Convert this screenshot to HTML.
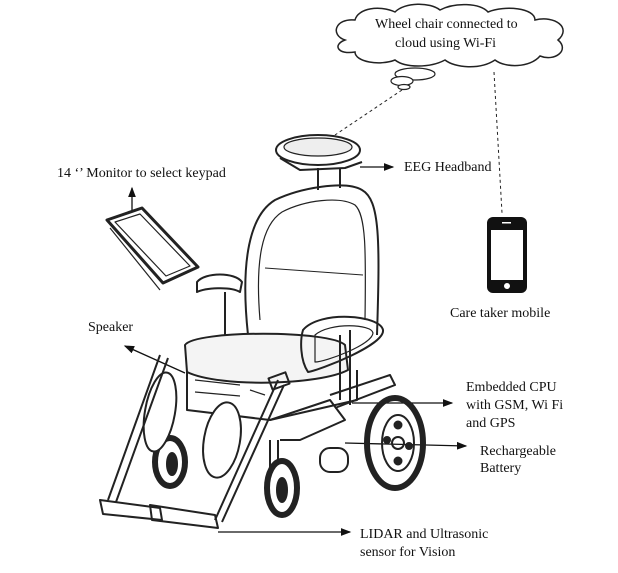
<!DOCTYPE html>
<html><head><style>
html,body{margin:0;padding:0;background:#fff;}
svg{display:block;}
text{font-family:"Liberation Serif",serif;font-size:14px;fill:#111;}
</style></head><body>
<svg width="618" height="573" viewBox="0 0 618 573" xmlns="http://www.w3.org/2000/svg">
<defs><marker id="a" markerWidth="8" markerHeight="8" refX="7" refY="4" orient="auto"><path d="M0,1 L8,4 L0,7 Z" fill="#111"/></marker></defs>
<!-- cloud -->
<path d="M345,40 C330,35 335,18 355,20 C358,8 380,5 395,12 C405,2 430,2 440,10 C455,2 480,3 488,12 C505,5 535,8 535,20 C555,15 572,28 558,40 C570,50 555,62 540,56 C530,68 505,68 495,60 C480,70 455,68 445,60 C430,68 405,68 395,60 C380,66 355,62 355,52 C338,55 332,45 345,40 Z" fill="#fff" stroke="#222" stroke-width="1.5"/>
<text x="375" y="28">Wheel chair connected to</text>
<text x="395" y="47">cloud using Wi-Fi</text>
<ellipse cx="415" cy="74" rx="20" ry="6" fill="#fff" stroke="#222" stroke-width="1.2"/>
<ellipse cx="402" cy="81" rx="11" ry="4.5" fill="#fff" stroke="#222" stroke-width="1.2"/>
<ellipse cx="404" cy="87" rx="6" ry="2.5" fill="#fff" stroke="#222" stroke-width="1.2"/>
<line x1="402" y1="90" x2="335" y2="135" stroke="#222" stroke-dasharray="3,3"/>
<line x1="494" y1="72" x2="502" y2="213" stroke="#222" stroke-dasharray="3,3"/>
<!-- phone -->
<rect x="487" y="217" width="40" height="76" rx="6" fill="#111"/>
<rect x="491" y="230" width="32" height="50" fill="#fff"/>
<circle cx="507" cy="286" r="3" fill="#fff"/>
<rect x="502" y="222" width="9" height="1.5" fill="#fff"/>
<text x="450" y="317">Care taker mobile</text>
<!-- labels -->
<text x="57" y="177">14 ‘’ Monitor to select keypad</text>
<text x="404" y="171">EEG Headband</text>
<text x="88" y="331">Speaker</text>
<text x="466" y="391">Embedded CPU</text>
<text x="466" y="409">with GSM, Wi Fi</text>
<text x="466" y="427">and GPS</text>
<text x="480" y="455">Rechargeable</text>
<text x="480" y="472">Battery</text>
<text x="360" y="538">LIDAR and Ultrasonic</text>
<text x="360" y="556">sensor for Vision</text>
<!-- arrows -->
<g stroke="#111" stroke-width="1.3" fill="none" marker-end="url(#a)">
<line x1="132" y1="212" x2="132" y2="188"/>
<line x1="360" y1="167" x2="393" y2="167"/>
<line x1="185" y1="373" x2="125" y2="346"/>
<line x1="352" y1="403" x2="452" y2="403"/>
<line x1="345" y1="443" x2="466" y2="446"/>
<line x1="218" y1="532" x2="350" y2="532"/>
</g>
<!-- wheelchair -->
<g stroke="#222" stroke-width="2" fill="none" stroke-linejoin="round">
<ellipse cx="318" cy="150" rx="42" ry="15"/>
<ellipse cx="318" cy="147" rx="34" ry="9" fill="#eee" stroke-width="1.2"/>
<path d="M280,158 L300,170 L345,168 L362,162"/>
<line x1="318" y1="168" x2="318" y2="190"/><line x1="340" y1="168" x2="340" y2="188"/>
<path d="M248,335 C240,260 250,215 275,200 C300,188 345,180 362,190 C380,200 380,240 377,335"/>
<path d="M260,320 C255,260 262,225 282,212 C305,200 340,196 355,205 C366,215 366,250 365,320" stroke-width="1.2"/>
<line x1="265" y1="268" x2="363" y2="275" stroke-width="1"/>
<path d="M107,220 L142,208 L198,267 L163,283 Z" stroke-width="3"/>
<path d="M115,222 L140,214 L190,266 L166,276 Z" stroke-width="1.2"/>
<path d="M110,228 L160,290" stroke-width="1.2"/>
<path d="M197,282 C205,272 235,272 242,282 L240,292 C230,286 205,288 197,292 Z"/>
<line x1="225" y1="292" x2="225" y2="340"/>
<path d="M185,345 C195,330 330,330 345,345 L348,370 C320,385 220,388 187,372 Z" fill="#f4f4f4"/>
<path d="M303,330 C320,310 380,315 383,330 C385,345 320,370 308,372 C300,360 300,340 303,330 Z"/>
<path d="M315,335 C330,322 372,324 373,333 C372,345 325,362 315,362 Z" stroke-width="1.2"/>
<line x1="350" y1="330" x2="350" y2="405"/><line x1="340" y1="335" x2="340" y2="400"/>
<path d="M187,372 L187,410 L270,420 L357,400 L357,370"/>
<path d="M195,380 L240,385 M195,392 L240,396 M250,390 L265,395" stroke-width="1.2"/>
<path d="M330,395 L390,375 L395,385 L335,408" />
<path d="M270,420 L330,400 L345,420 L300,440 L280,440"/>
<rect x="320" y="448" width="28" height="24" rx="10"/>
<ellipse cx="395" cy="443" rx="28" ry="45" stroke-width="6"/>
<ellipse cx="398" cy="443" rx="16" ry="28"/>
<circle cx="398" cy="443" r="6"/>
<circle cx="398" cy="425" r="3.5" fill="#222"/><circle cx="398" cy="461" r="3.5" fill="#222"/>
<circle cx="387" cy="440" r="3" fill="#222"/><circle cx="409" cy="446" r="3" fill="#222"/>
<ellipse cx="282" cy="488" rx="15" ry="27" stroke-width="6"/>
<ellipse cx="282" cy="490" rx="5" ry="12" fill="#222"/>
<line x1="270" y1="440" x2="270" y2="470"/><line x1="278" y1="440" x2="278" y2="462"/>
<ellipse cx="170" cy="462" rx="15" ry="24" stroke-width="6"/>
<ellipse cx="172" cy="464" rx="5" ry="11" fill="#222"/>
<ellipse cx="160" cy="412" rx="15" ry="40" transform="rotate(10 160 412)" fill="#fff"/>
<ellipse cx="222" cy="440" rx="18" ry="38" transform="rotate(10 222 440)" fill="#fff"/>
<path d="M160,355 L108,500 M168,358 L116,502"/>
<path d="M100,500 L160,508 L162,520 L103,514 Z"/>
<path d="M278,380 L215,520 M284,385 L222,522"/>
<path d="M150,505 L215,515 L218,528 L152,520 Z"/>
<rect x="270" y="375" width="18" height="12" transform="rotate(-20 279 381)"/>
</g>
</svg>
</body></html>
